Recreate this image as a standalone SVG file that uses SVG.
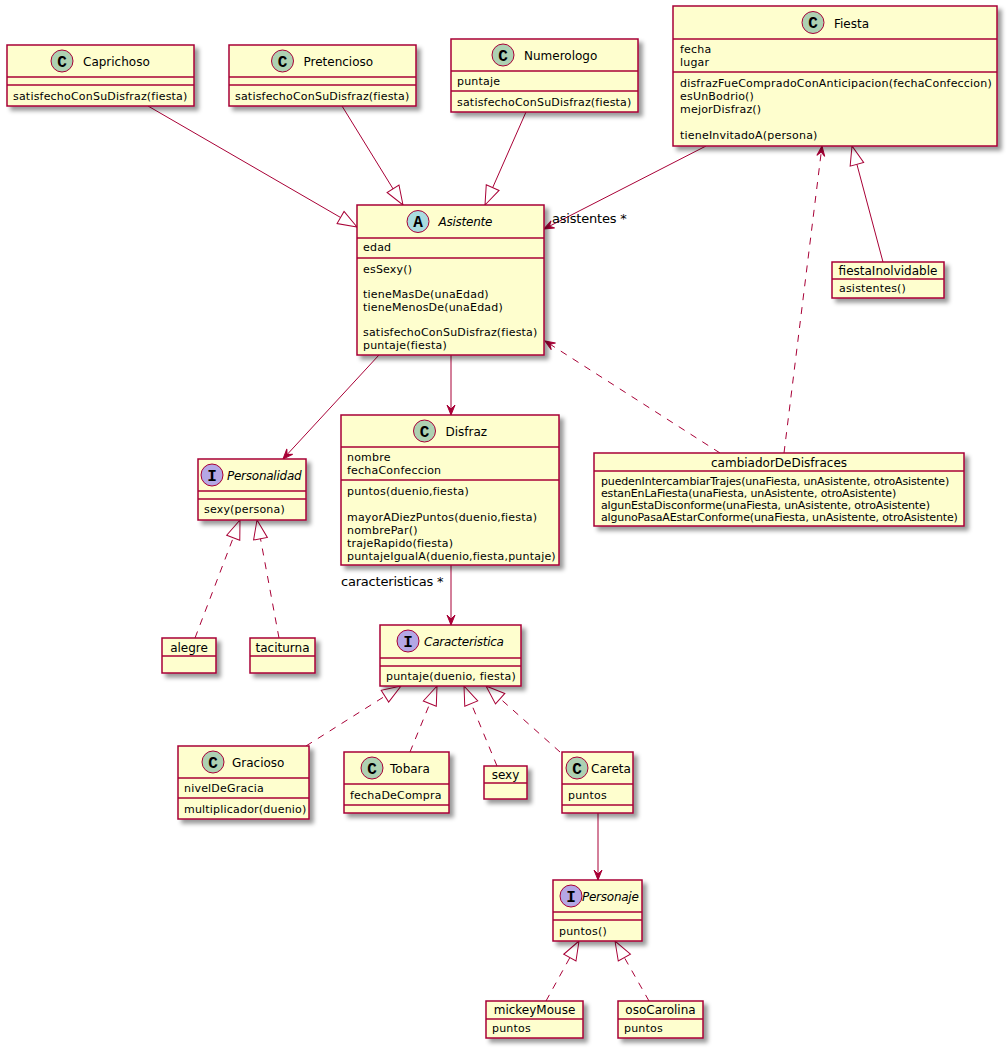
<svg xmlns="http://www.w3.org/2000/svg" width="1008" height="1051" viewBox="0 0 1008 1051">
<defs>
<filter id="sh" x="-0.1" y="-0.3" width="1.3" height="1.8">
<feGaussianBlur in="SourceAlpha" stdDeviation="2" result="b"/>
<feColorMatrix in="b" type="matrix" values="0 0 0 0 0 0 0 0 0 0 0 0 0 0 0 0 0 0 .4 0" result="b2"/>
<feOffset in="b2" dx="4" dy="4" result="b3"/>
<feBlend in="SourceGraphic" in2="b3" mode="normal"/>
</filter>
<marker id="tri" viewBox="-21 -9 23 18" refX="0" refY="0" markerWidth="23" markerHeight="18" markerUnits="userSpaceOnUse" orient="auto">
<path d="M0,0 L-19,-7 L-19,7 Z" fill="#FFFFFF" stroke="#A80036" stroke-width="1"/>
</marker>
<marker id="arr" viewBox="-12 -6 14 12" refX="0" refY="0" markerWidth="14" markerHeight="12" markerUnits="userSpaceOnUse" orient="auto">
<path d="M0,0 L-10,-4 L-6,0 L-10,4 Z" fill="#A80036" stroke="#A80036" stroke-width="1"/>
</marker>
<style>
.box{fill:#FEFECE;stroke:#A80036;stroke-width:1.5;filter:url(#sh)}
.sep{stroke:#A80036;stroke-width:1.5}
.t{font-family:"DejaVu Sans",sans-serif;font-size:12px;fill:#000}
.i{font-style:italic;letter-spacing:-0.25px}
.c{text-anchor:middle}
.m{font-family:"DejaVu Sans",sans-serif;font-size:11px;letter-spacing:0.2px;fill:#000}
.o{font-family:"DejaVu Sans",sans-serif;font-size:11px;letter-spacing:-0.15px;fill:#000}
.ci{stroke:#A80036;stroke-width:1}
.cC{fill:#ADD1B2}
.cA{fill:#A9DCDF}
.cI{fill:#B4A7E5}
.cl{font-family:"Liberation Mono",monospace;font-weight:bold;font-size:16px;text-anchor:middle;fill:#000}
.ln{stroke:#A80036;stroke-width:1;fill:none}
.d{stroke-dasharray:7,7}
.lab{font-family:"DejaVu Sans",sans-serif;font-size:13px;letter-spacing:-0.2px;fill:#000}
</style>
</defs>
<rect width="1008" height="1051" fill="#FFFFFF"/>

<g id="connectors">
<line class="ln" x1="148" y1="106" x2="357" y2="227" marker-end="url(#tri)"/>
<line class="ln" x1="342" y1="106" x2="403" y2="205" marker-end="url(#tri)"/>
<line class="ln" x1="526" y1="112" x2="485" y2="205" marker-end="url(#tri)"/>
<line class="ln" x1="706" y1="146" x2="544" y2="229" marker-end="url(#arr)"/>
<text class="lab" x="552" y="223">asistentes *</text>
<line class="ln d" x1="784" y1="453" x2="822" y2="146" marker-end="url(#arr)"/>
<line class="ln" x1="883" y1="262" x2="852" y2="146" marker-end="url(#tri)"/>
<line class="ln d" x1="720" y1="453" x2="545" y2="341" marker-end="url(#arr)"/>
<line class="ln" x1="379" y1="355" x2="283" y2="459" marker-end="url(#arr)"/>
<line class="ln" x1="451" y1="355" x2="451" y2="415" marker-end="url(#arr)"/>
<line class="ln" x1="451" y1="565" x2="451" y2="625" marker-end="url(#arr)"/>
<text class="lab" x="341" y="586">caracteristicas *</text>
<line class="ln d" x1="195" y1="638" x2="240" y2="520" marker-end="url(#tri)"/>
<line class="ln d" x1="279" y1="638" x2="257" y2="520" marker-end="url(#tri)"/>
<line class="ln d" x1="306" y1="746" x2="401" y2="686" marker-end="url(#tri)"/>
<line class="ln d" x1="410" y1="752" x2="437" y2="686" marker-end="url(#tri)"/>
<line class="ln d" x1="497" y1="766" x2="464" y2="686" marker-end="url(#tri)"/>
<line class="ln d" x1="560" y1="752" x2="486" y2="686" marker-end="url(#tri)"/>
<line class="ln" x1="598" y1="813" x2="598" y2="880" marker-end="url(#arr)"/>
<line class="ln d" x1="546" y1="1001" x2="579" y2="941" marker-end="url(#tri)"/>
<line class="ln d" x1="649" y1="1001" x2="615" y2="941" marker-end="url(#tri)"/>
</g>

<g id="Caprichoso">
<rect class="box" x="7" y="45" width="187" height="61"/>
<line class="sep" x1="7" y1="77" x2="194" y2="77"/>
<line class="sep" x1="7" y1="85" x2="194" y2="85"/>
<circle class="ci cC" cx="62" cy="61" r="11"/>
<text class="cl" x="62" y="66.5">C</text>
<text class="t" x="83" y="66">Caprichoso</text>
<text class="m" x="13" y="100">satisfechoConSuDisfraz(fiesta)</text>
</g>

<g id="Pretencioso">
<rect class="box" x="229" y="45" width="187" height="61"/>
<line class="sep" x1="229" y1="77" x2="416" y2="77"/>
<line class="sep" x1="229" y1="85" x2="416" y2="85"/>
<circle class="ci cC" cx="282.5" cy="61" r="11"/>
<text class="cl" x="282.5" y="66.5">C</text>
<text class="t" x="303.5" y="66">Pretencioso</text>
<text class="m" x="235" y="100">satisfechoConSuDisfraz(fiesta)</text>
</g>

<g id="Numerologo">
<rect class="box" x="451" y="39" width="187" height="73"/>
<line class="sep" x1="451" y1="71" x2="638" y2="71"/>
<line class="sep" x1="451" y1="91" x2="638" y2="91"/>
<circle class="ci cC" cx="503" cy="55" r="11"/>
<text class="cl" x="503" y="60.5">C</text>
<text class="t" x="524" y="60">Numerologo</text>
<text class="m" x="457" y="85">puntaje</text>
<text class="m" x="457" y="106">satisfechoConSuDisfraz(fiesta)</text>
</g>

<g id="Fiesta">
<rect class="box" x="673" y="6" width="324" height="140"/>
<line class="sep" x1="673" y1="39" x2="997" y2="39"/>
<line class="sep" x1="673" y1="72" x2="997" y2="72"/>
<circle class="ci cC" cx="813" cy="22.5" r="11"/>
<text class="cl" x="813" y="28">C</text>
<text class="t" x="834" y="27.5">Fiesta</text>
<text class="m" x="680" y="53">fecha</text>
<text class="m" x="680" y="66">lugar</text>
<text class="m" x="680" y="87">disfrazFueCompradoConAnticipacion(fechaConfeccion)</text>
<text class="m" x="680" y="100">esUnBodrio()</text>
<text class="m" x="680" y="113">mejorDisfraz()</text>
<text class="m" x="680" y="139">tieneInvitadoA(persona)</text>
</g>

<g id="Asistente">
<rect class="box" x="357" y="205" width="187" height="150"/>
<line class="sep" x1="357" y1="238" x2="544" y2="238"/>
<line class="sep" x1="357" y1="258" x2="544" y2="258"/>
<circle class="ci cA" cx="418" cy="221.5" r="11"/>
<text class="cl" x="418" y="227">A</text>
<text class="t i" x="438.5" y="226">Asistente</text>
<text class="m" x="363" y="251">edad</text>
<text class="m" x="363" y="273">esSexy()</text>
<text class="m" x="363" y="298">tieneMasDe(unaEdad)</text>
<text class="m" x="363" y="311">tieneMenosDe(unaEdad)</text>
<text class="m" x="363" y="336">satisfechoConSuDisfraz(fiesta)</text>
<text class="m" x="363" y="349">puntaje(fiesta)</text>
</g>

<g id="fiestaInolvidable">
<rect class="box" x="832" y="262" width="112" height="36"/>
<line class="sep" x1="832" y1="279" x2="944" y2="279"/>
<text class="t c" x="888" y="275">fiestaInolvidable</text>
<text class="m" x="839" y="292">asistentes()</text>
</g>

<g id="cambiadorDeDisfraces">
<rect class="box" x="594" y="453" width="370" height="73"/>
<line class="sep" x1="594" y1="471" x2="964" y2="471"/>
<text class="t c" x="779" y="467">cambiadorDeDisfraces</text>
<text class="o" x="601" y="485">puedenIntercambiarTrajes(unaFiesta, unAsistente, otroAsistente)</text>
<text class="o" x="601" y="497">estanEnLaFiesta(unaFiesta, unAsistente, otroAsistente)</text>
<text class="o" x="601" y="509">algunEstaDisconforme(unaFiesta, unAsistente, otroAsistente)</text>
<text class="o" x="601" y="521">algunoPasaAEstarConforme(unaFiesta, unAsistente, otroAsistente)</text>
</g>

<g id="Personalidad">
<rect class="box" x="198" y="459" width="108" height="61"/>
<line class="sep" x1="198" y1="491" x2="306" y2="491"/>
<line class="sep" x1="198" y1="499" x2="306" y2="499"/>
<circle class="ci cI" cx="212" cy="475" r="11"/>
<text class="cl" x="212" y="480.5">I</text>
<text class="t i" x="227" y="480">Personalidad</text>
<text class="m" x="204" y="513">sexy(persona)</text>
</g>

<g id="Disfraz">
<rect class="box" x="341" y="415" width="218" height="150"/>
<line class="sep" x1="341" y1="447" x2="559" y2="447"/>
<line class="sep" x1="341" y1="480" x2="559" y2="480"/>
<circle class="ci cC" cx="424.5" cy="431" r="11"/>
<text class="cl" x="424.5" y="436.5">C</text>
<text class="t" x="445.5" y="436">Disfraz</text>
<text class="m" x="347" y="461">nombre</text>
<text class="m" x="347" y="474">fechaConfeccion</text>
<text class="m" x="347" y="495">puntos(duenio,fiesta)</text>
<text class="m" x="347" y="521">mayorADiezPuntos(duenio,fiesta)</text>
<text class="m" x="347" y="534">nombrePar()</text>
<text class="m" x="347" y="547">trajeRapido(fiesta)</text>
<text class="m" x="347" y="560">puntajeIgualA(duenio,fiesta,puntaje)</text>
</g>

<g id="alegre">
<rect class="box" x="162" y="638" width="54" height="35"/>
<line class="sep" x1="162" y1="656" x2="216" y2="656"/>
<text class="t c" x="189" y="652">alegre</text>
</g>

<g id="taciturna">
<rect class="box" x="250" y="638" width="65" height="35"/>
<line class="sep" x1="250" y1="656" x2="315" y2="656"/>
<text class="t c" x="282.5" y="652">taciturna</text>
</g>

<g id="Caracteristica">
<rect class="box" x="380" y="625" width="141" height="61"/>
<line class="sep" x1="380" y1="658" x2="521" y2="658"/>
<line class="sep" x1="380" y1="666" x2="521" y2="666"/>
<circle class="ci cI" cx="408" cy="641" r="11"/>
<text class="cl" x="408" y="646.5">I</text>
<text class="t i" x="424" y="646">Caracteristica</text>
<text class="m" x="386" y="680">puntaje(duenio, fiesta)</text>
</g>

<g id="Gracioso">
<rect class="box" x="178" y="746" width="131" height="73"/>
<line class="sep" x1="178" y1="778" x2="309" y2="778"/>
<line class="sep" x1="178" y1="798" x2="309" y2="798"/>
<circle class="ci cC" cx="213" cy="762" r="11"/>
<text class="cl" x="213" y="767.5">C</text>
<text class="t" x="232" y="767">Gracioso</text>
<text class="m" x="184" y="792">nivelDeGracia</text>
<text class="m" x="184" y="813">multiplicador(duenio)</text>
</g>

<g id="Tobara">
<rect class="box" x="344" y="752" width="105" height="61"/>
<line class="sep" x1="344" y1="784" x2="449" y2="784"/>
<line class="sep" x1="344" y1="805" x2="449" y2="805"/>
<circle class="ci cC" cx="372" cy="768" r="11"/>
<text class="cl" x="372" y="773.5">C</text>
<text class="t" x="390" y="773">Tobara</text>
<text class="m" x="350" y="799">fechaDeCompra</text>
</g>

<g id="sexy">
<rect class="box" x="484" y="766" width="43" height="33"/>
<line class="sep" x1="484" y1="783" x2="527" y2="783"/>
<text class="t c" x="505.5" y="779">sexy</text>
</g>

<g id="Careta">
<rect class="box" x="562" y="752" width="71" height="61"/>
<line class="sep" x1="562" y1="784" x2="633" y2="784"/>
<line class="sep" x1="562" y1="805" x2="633" y2="805"/>
<circle class="ci cC" cx="577" cy="768" r="11"/>
<text class="cl" x="577" y="773.5">C</text>
<text class="t" x="591" y="773">Careta</text>
<text class="m" x="568" y="799">puntos</text>
</g>

<g id="Personaje">
<rect class="box" x="553" y="880" width="89" height="61"/>
<line class="sep" x1="553" y1="912" x2="642" y2="912"/>
<line class="sep" x1="553" y1="920" x2="642" y2="920"/>
<circle class="ci cI" cx="571" cy="896" r="11"/>
<text class="cl" x="571" y="901.5">I</text>
<text class="t i" x="582" y="901">Personaje</text>
<text class="m" x="559" y="935">puntos()</text>
</g>

<g id="mickeyMouse">
<rect class="box" x="486" y="1001" width="97" height="37"/>
<line class="sep" x1="486" y1="1019" x2="583" y2="1019"/>
<text class="t c" x="534.5" y="1014">mickeyMouse</text>
<text class="m" x="492" y="1032">puntos</text>
</g>

<g id="osoCarolina">
<rect class="box" x="618" y="1001" width="85" height="37"/>
<line class="sep" x1="618" y1="1019" x2="703" y2="1019"/>
<text class="t c" x="660.5" y="1014">osoCarolina</text>
<text class="m" x="624" y="1032">puntos</text>
</g>
</svg>
